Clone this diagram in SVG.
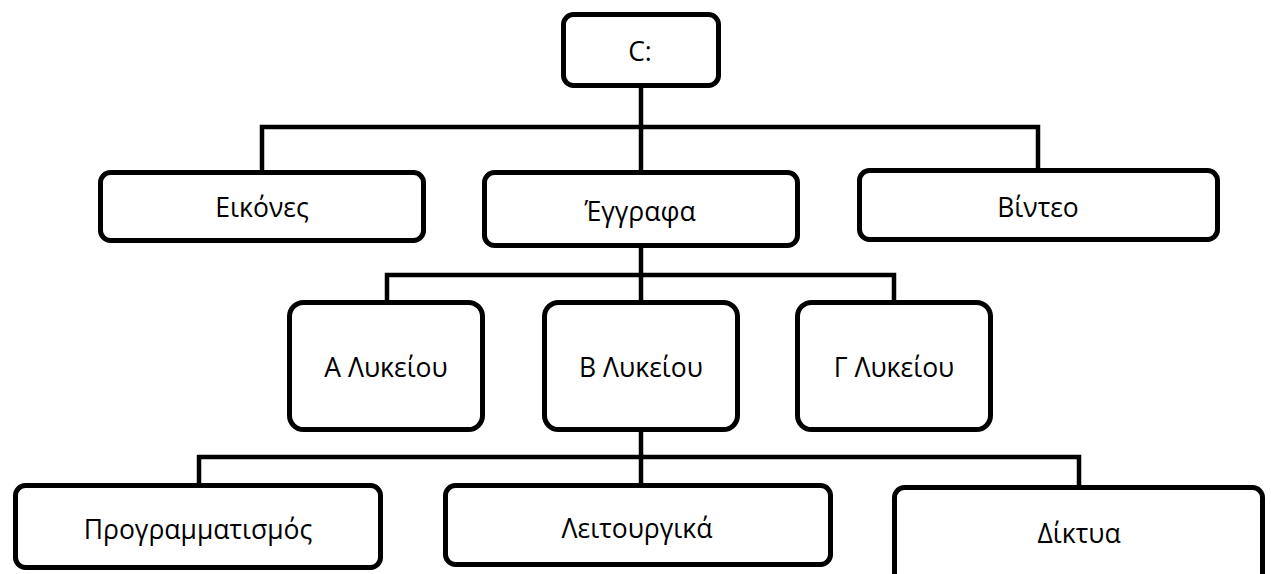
<svg xmlns="http://www.w3.org/2000/svg" width="1271" height="574" viewBox="0 0 1271 574">
<style>
.box{fill:#fff;stroke:#000;stroke-width:5}
.lbl{font-family:"Open Sans","Noto Sans","DejaVu Sans",sans-serif;font-size:26.5px;fill:#000;text-anchor:middle}
.conn{fill:none;stroke:#000;stroke-width:4.5}
</style>
<rect width="1271" height="574" fill="#fff"/>
<g id="connectors">
<path class="conn" d="M641 88 V170"/>
<path class="conn" d="M262 170 V127 H1038 V168"/>
<path class="conn" d="M641 248 V300"/>
<path class="conn" d="M387 300 V275 H894 V300"/>
<path class="conn" d="M641 432 V483"/>
<path class="conn" d="M199 483 V457 H1079 V485"/>
</g>
<g id="n-c"><rect class="box" x="563.5" y="14.5" width="155" height="71" rx="10"/><text class="lbl" x="640" y="61">C:</text></g>
<g id="n-eikones"><rect class="box" x="100.5" y="172.5" width="323" height="68" rx="10"/><text class="lbl" x="262" y="217">Εικόνες</text></g>
<g id="n-eggrafa"><rect class="box" x="484.5" y="172.5" width="313" height="73" rx="10"/><text class="lbl" x="640" y="221">Έγγραφα</text></g>
<g id="n-vinteo"><rect class="box" x="859.5" y="170.5" width="358" height="69" rx="10"/><text class="lbl" x="1038" y="217">Βίντεο</text></g>
<g id="n-a"><rect class="box" x="289.5" y="302.5" width="193" height="127" rx="14"/><text class="lbl" x="386" y="377">Α Λυκείου</text></g>
<g id="n-b"><rect class="box" x="544.5" y="302.5" width="193" height="127" rx="14"/><text class="lbl" x="641" y="377">Β Λυκείου</text></g>
<g id="n-g"><rect class="box" x="797.5" y="302.5" width="193" height="127" rx="14"/><text class="lbl" x="894" y="377">Γ Λυκείου</text></g>
<g id="n-prog"><rect class="box" x="15.5" y="485.5" width="365" height="82" rx="10"/><text class="lbl" x="198" y="539">Προγραμματισμός</text></g>
<g id="n-leit"><rect class="box" x="445.5" y="485.5" width="385" height="79" rx="10"/><text class="lbl" x="637" y="538">Λειτουργικά</text></g>
<g id="n-dikt"><rect class="box" x="894.5" y="487.5" width="368" height="120" rx="10"/><text class="lbl" x="1079" y="543">Δίκτυα</text></g>
</svg>
